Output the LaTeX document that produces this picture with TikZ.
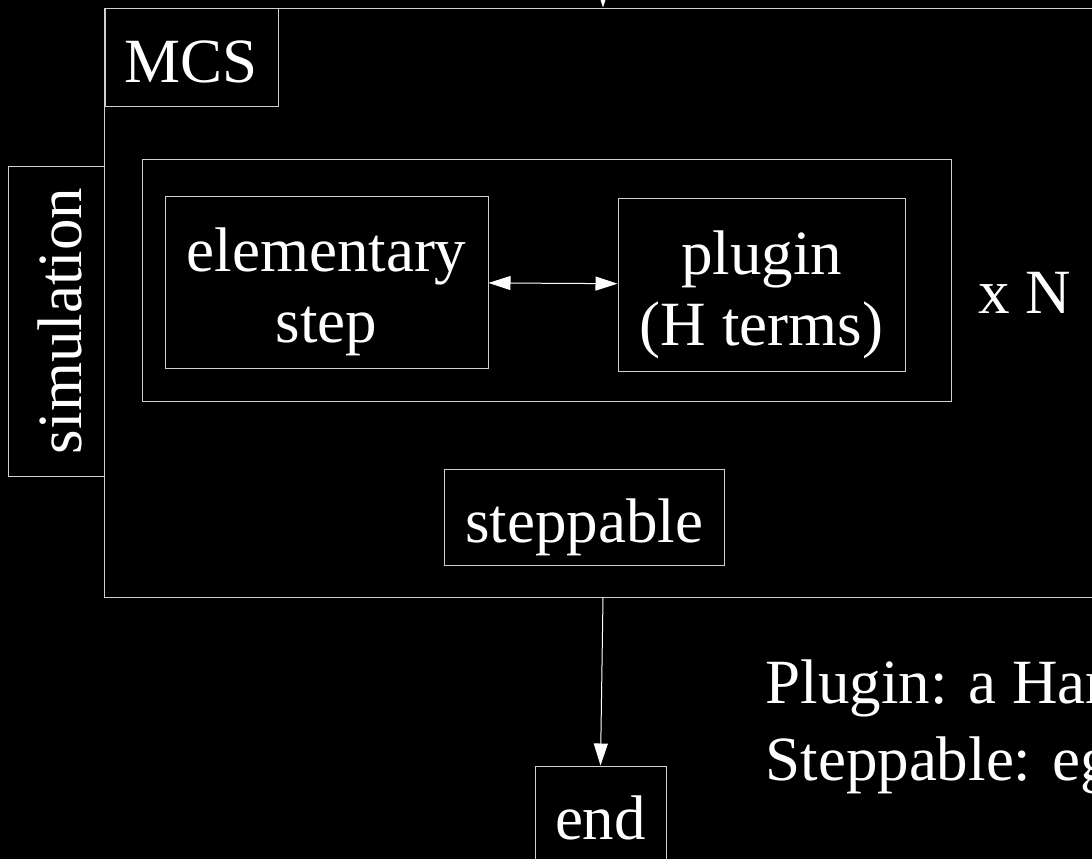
\documentclass[tikz,border=0pt]{standalone}
\usepackage{fontspec}
\setmainfont{Liberation Serif}
\usetikzlibrary{arrows.meta,positioning}

\begin{document}
\begin{tikzpicture}[x=0.5pt, y=-0.5pt, line width=0.5pt,
   box/.style = {draw=white!82!black, text=white, inner sep=0pt, align=center,
                 text height=27pt, text depth=2pt,
                 font=\fontsize{31.5}{35.5}\selectfont},
   twoline/.style = {text height=62.5pt, text depth=2pt},
   >={Triangle[length=11pt, width=7pt]}]
   \fill[black] (0,0) rectangle (1092,859);
   \useasboundingbox (0,0) rectangle (1092,859);
   \clip (0,0) rectangle (1092,859);
   \node[box, minimum width=499pt, minimum height=294.5pt] (mcs) at (603,302.5) {};
   \node[box, minimum width=86.5pt, minimum height=49pt] (mcs_lab) at (191.5,57) {MCS};
   \node[box, minimum width=155pt, minimum height=48pt, rotate=90] (sim) at (56,321) {simulation};
   \node[box, minimum width=404.5pt, minimum height=121pt] (loop) at (546.5,280) {};
   \node[box, twoline, minimum width=161.5pt, minimum height=86pt] (elem) at (326.5,282) {elementary\\step};
   \node[box, twoline, minimum width=143.5pt, minimum height=86.5pt] (plug) at (761.5,284.5) {plugin\\(H terms)};
   \node[box, draw=none] (times) at (1025,288) {x N};
   \node[box, minimum width=140pt, minimum height=48pt] (stepp) at (584,517) {steppable};
   \node[box, minimum width=65.5pt, minimum height=48pt] (fin) at (600.5,814) {end};
   \coordinate (start) at (603,-60);
   \node[box, draw=none, anchor=base west] (note_a) at (765,703) {Plugin: a Hamiltonian};
   \node[box, draw=none, anchor=base west] (note_b) at (765,780) {Steppable: eg};
   \path[white]
    (start) edge[->] (mcs.north)
    (elem)  edge[<->] (plug)
    (mcs.south) edge[->] (fin.north);
\end{tikzpicture}
\end{document}
